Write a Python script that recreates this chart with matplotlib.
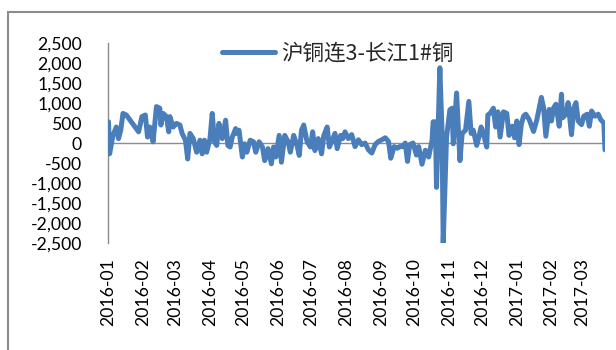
import matplotlib
matplotlib.use("Agg")
import matplotlib.pyplot as plt
import matplotlib.dates as mdates
from matplotlib.patches import Rectangle
from matplotlib.ticker import FuncFormatter, MultipleLocator
import pandas as pd

series_name = "沪铜连3-长江1#铜"

dates = [
    "2016-01-04", "2016-01-05", "2016-01-08", "2016-01-11", "2016-01-13", "2016-01-15",
    "2016-01-17", "2016-01-20", "2016-01-31", "2016-02-03", "2016-02-06", "2016-02-08",
    "2016-02-10", "2016-02-13", "2016-02-16", "2016-02-19", "2016-02-20", "2016-02-22",
    "2016-02-25", "2016-02-27", "2016-02-28", "2016-03-02", "2016-03-05", "2016-03-08",
    "2016-03-10", "2016-03-13", "2016-03-15", "2016-03-17", "2016-03-20", "2016-03-23",
    "2016-03-26", "2016-03-28", "2016-03-30", "2016-04-01", "2016-04-04", "2016-04-06",
    "2016-04-08", "2016-04-10", "2016-04-12", "2016-04-15", "2016-04-18", "2016-04-20",
    "2016-04-22", "2016-04-24", "2016-04-27", "2016-04-28", "2016-04-30", "2016-05-03",
    "2016-05-05", "2016-05-07", "2016-05-10", "2016-05-13", "2016-05-15", "2016-05-18",
    "2016-05-21", "2016-05-23", "2016-05-26", "2016-05-29", "2016-05-31", "2016-06-02",
    "2016-06-05", "2016-06-07", "2016-06-10", "2016-06-13", "2016-06-15", "2016-06-18",
    "2016-06-21", "2016-06-23", "2016-06-25", "2016-06-27", "2016-06-30", "2016-07-03",
    "2016-07-05", "2016-07-07", "2016-07-10", "2016-07-13", "2016-07-15", "2016-07-18",
    "2016-07-20", "2016-07-22", "2016-07-25", "2016-07-27", "2016-07-30", "2016-08-01",
    "2016-08-03", "2016-08-06", "2016-08-09", "2016-08-12", "2016-08-15", "2016-08-18",
    "2016-08-21", "2016-08-24", "2016-08-27", "2016-08-30", "2016-09-02", "2016-09-05",
    "2016-09-08", "2016-09-11", "2016-09-13", "2016-09-16", "2016-09-19", "2016-09-21",
    "2016-09-24", "2016-09-26", "2016-09-28", "2016-09-30", "2016-10-03", "2016-10-06",
    "2016-10-08", "2016-10-11", "2016-10-14", "2016-10-17", "2016-10-20", "2016-10-21",
    "2016-10-23", "2016-10-24", "2016-10-27", "2016-10-29", "2016-10-30", "2016-11-02",
    "2016-11-05", "2016-11-07", "2016-11-08", "2016-11-11", "2016-11-14", "2016-11-16",
    "2016-11-19", "2016-11-22", "2016-11-24", "2016-11-26", "2016-11-29", "2016-12-01",
    "2016-12-03", "2016-12-05", "2016-12-08", "2016-12-09", "2016-12-11", "2016-12-14",
    "2016-12-16", "2016-12-18", "2016-12-20", "2016-12-23", "2016-12-26", "2016-12-28",
    "2016-12-31", "2017-01-02", "2017-01-04", "2017-01-06", "2017-01-08", "2017-01-10",
    "2017-01-12", "2017-01-15", "2017-01-19", "2017-01-22", "2017-01-26", "2017-01-28",
    "2017-01-30", "2017-02-02", "2017-02-04", "2017-02-06", "2017-02-08", "2017-02-11",
    "2017-02-13", "2017-02-14", "2017-02-17", "2017-02-19", "2017-02-22", "2017-02-24",
    "2017-02-26", "2017-02-28", "2017-03-03", "2017-03-05", "2017-03-08", "2017-03-10",
    "2017-03-12", "2017-03-15", "2017-03-18", "2017-03-20", "2017-03-23", "2017-03-24",
]

spread = [
    530, -270, 190, 400, 110, 320,
    740, 700, 280, 660, 700, 150,
    400, 30, 910, 870, 450, 740,
    660, 280, 660, 400, 490, 450,
    240, 70, -400, 240, 110, -230,
    70, -270, 70, -230, 110, 740,
    30, -60, 490, 110, 570, -60,
    -100, 150, 360, 240, 320, -350,
    -20, -230, 70, 30, -230, 30,
    -100, -440, -140, -520, -100, -350,
    190, -480, 190, 30, -230, 190,
    -60, -310, 320, 450, 30, -100,
    280, -190, 110, -270, 190, 400,
    -100, 30, 240, -140, 190, 110,
    280, 110, 210, -90, 80, -40,
    0, -170, -250, -40, 40, 80,
    130, 40, -380, -90, -130, -90,
    -90, 0, -460, -40, 0, -300,
    -90, -530, -180, -350, 70, 530,
    530, -1110, 1880, 240, -2500, 150,
    830, 870, -20, 1250, -440, 240,
    320, 1040, 240, 320, -60, 150,
    400, 240, -100, 700, 740, 870,
    400, 780, 150, 780, 740, 190,
    420, 130, 550, -40, 460, 670,
    720, 590, 290, 590, 1140, 880,
    170, 840, 550, 880, 970, 420,
    1220, 630, 720, 1010, 210, 880,
    1010, 550, 460, 670, 720, 420,
    800, 670, 720, 590, 500, -170,
]

y_ticks = [-2500, -2000, -1500, -1000, -500, 0, 500, 1000, 1500, 2000, 2500]

line_color = "#4a7ebb"
axis_gray = "#8c8c8c"

plt.rcParams["font.family"] = ["Lato", "DejaVu Sans"]

fig = plt.figure(figsize=(6.16, 3.5), dpi=100)
ax = fig.add_axes([0.1761, 0.3057, 0.806, 0.5714])

x = pd.to_datetime(dates)
ax.plot(x, spread, color=line_color, lw=3.6, solid_joinstyle="round",
        solid_capstyle="round", label=series_name, zorder=3)

# horizontal zero axis
ax.axhline(0, color=axis_gray, lw=1.0, zorder=2)

ax.set_xlim(x[0], x[-1])
ax.set_ylim(y_ticks[0], y_ticks[-1])
ax.set_yticks(y_ticks)
ax.yaxis.set_major_formatter(FuncFormatter(lambda v, p: f"{int(v):,}"))

month_ticks = pd.date_range("2016-01-04", "2017-03-04", freq=pd.DateOffset(months=1))
ax.set_xticks(month_ticks)
ax.xaxis.set_major_formatter(mdates.DateFormatter("%Y-%m"))

for s in ["top", "right", "bottom"]:
    ax.spines[s].set_visible(False)
ax.spines["left"].set_color(axis_gray)
ax.spines["left"].set_linewidth(1.0)

ax.tick_params(axis="y", length=0, pad=19, labelsize=12.7, labelcolor="#000000")
ax.tick_params(axis="x", length=0, pad=11, labelsize=12.7, labelcolor="#000000",
               labelrotation=90)

leg = ax.legend(loc="center", bbox_to_anchor=(338 / 616, 1 - 54 / 350),
                bbox_transform=fig.transFigure, frameon=False,
                prop={"family": ["Noto Sans CJK SC", "DejaVu Sans"], "size": 15.5},
                handlelength=2.45, handletextpad=0.3, borderpad=0, borderaxespad=0)
for t in leg.get_texts():
    t.set_color("#262626")

# chart-area border
fig.patches.append(Rectangle((7.5 / 616, -0.1), 1.2, 1.1 - 11.5 / 350 + 0.0,
                             transform=fig.transFigure, fill=False,
                             edgecolor=axis_gray, lw=1.5, clip_on=False))

fig.savefig("out.png", dpi=100)
